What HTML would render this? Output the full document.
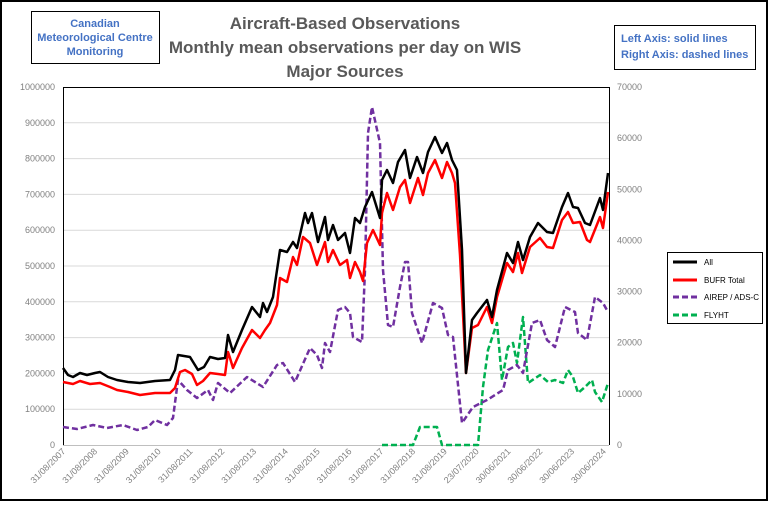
<!DOCTYPE html>
<html><head><meta charset="utf-8"><style>
body{margin:0;background:#fff}
svg text{font-family:"Liberation Sans",sans-serif}
</style></head><body>
<svg id="s" width="768" height="501" viewBox="0 0 768 501" xmlns="http://www.w3.org/2000/svg">
<rect x="1" y="1" width="766" height="499" fill="#fff" stroke="#000" stroke-width="2"/>
<g fill="#595959" font-weight="bold" font-size="17" text-anchor="middle">
<text x="345" y="29">Aircraft-Based Observations</text>
<text x="345" y="53">Monthly mean observations per day on WIS</text>
<text x="345" y="77">Major Sources</text>
</g>
<rect x="31.5" y="11.5" width="128" height="52" fill="#fff" stroke="#000"/>
<g fill="#4472C4" font-weight="bold" font-size="11" text-anchor="middle">
<text x="95" y="27">Canadian</text><text x="95" y="41">Meteorological Centre</text><text x="95" y="55">Monitoring</text>
</g>
<rect x="614.5" y="25.5" width="141" height="44" fill="#fff" stroke="#000"/>
<g fill="#4472C4" font-weight="bold" font-size="11">
<text x="621" y="42">Left Axis: solid lines</text><text x="621" y="58">Right Axis: dashed lines</text>
</g>
<g id="grid" stroke="#d9d9d9" stroke-width="1"></g>
<g id="lab" fill="#808080" font-size="9"></g>
<line x1="63.5" y1="87" x2="63.5" y2="445" stroke="#000"/>
<line x1="609.5" y1="87" x2="609.5" y2="445" stroke="#000"/>
<line x1="63" y1="87.5" x2="609" y2="87.5" stroke="#000"/>
<line x1="63" y1="445.5" x2="609" y2="445.5" stroke="#bfbfbf"/>
<g fill="none" stroke-linejoin="round" stroke-width="2.5">
<polyline stroke="#00B050" stroke-dasharray="6,3" points="382,445 413,445 420,427 437,427 442,445 478,445 483,387 488,350 497,323 502,380 508,347 513,343 517,363 523,317 528,383 540,375 548,382 555,380 563,383 568,370 573,377 578,393 585,387 592,380 595,392 602,402 608,383"/>
<polyline stroke="#7030A0" stroke-dasharray="6,3" points="63,427 77,429 93,425 107,428 123,425 137,430 148,427 155,420 167,425 173,418 178,380 187,390 197,398 208,390 213,400 218,383 230,393 247,377 263,387 277,365 283,363 295,382 310,348 317,355 322,368 325,343 330,352 338,310 345,307 350,313 353,337 362,342 365,270 368,133 372,107 380,143 383,270 388,325 393,327 400,287 405,262 408,262 412,313 422,343 433,303 442,308 448,335 453,337 462,423 473,407 487,400 503,390 508,370 517,365 523,373 532,323 540,320 547,340 555,347 565,307 575,312 578,333 587,340 595,297 603,303 608,312"/>
<polyline stroke="#f00" points="63,382 73,384 80,381 90,384 100,383 110,387 117,390 128,392 140,395 155,393 170,393 175,388 180,372 185,370 192,374 197,385 203,381 210,373 218,374 225,375 228,352 230,358 233,368 242,348 252,330 256,334 260,338 265,330 270,323 277,305 280,278 287,282 293,257 297,265 303,237 310,243 317,265 325,242 328,262 333,250 340,265 347,260 350,278 355,262 360,272 363,281 367,243 373,230 380,245 382,213 387,193 393,210 400,187 405,180 410,203 418,178 423,195 428,173 435,160 442,178 447,162 452,173 455,183 460,255 466,373 472,328 478,325 487,307 492,323 497,297 507,263 513,272 518,253 522,273 530,247 540,238 547,247 553,248 562,220 568,212 573,223 580,222 587,240 590,242 600,217 603,228 608,192"/>
<polyline stroke="#000" points="63,368 68,375 73,377 80,373 87,375 95,373 100,372 108,377 117,380 128,382 140,383 155,381 170,380 175,370 178,355 190,357 198,370 204,367 210,357 218,359 225,358 228,335 233,352 242,330 252,307 256,312 260,317 263,303 267,312 273,297 280,250 287,252 293,242 297,248 305,213 308,223 312,213 318,242 325,217 328,240 333,225 338,240 345,233 350,253 355,218 360,223 365,207 372,192 380,218 382,180 387,170 393,183 398,162 405,150 410,178 417,157 423,173 428,152 435,137 442,153 447,143 452,160 457,170 462,250 466,373 472,320 477,313 487,300 492,317 497,290 507,253 513,263 518,242 523,260 530,237 538,223 547,232 553,233 562,207 568,193 573,207 578,208 585,223 590,225 600,198 603,210 608,173"/>
</g>
<rect x="667.5" y="252.5" width="95" height="71" fill="#fff" stroke="#000"/>
<g font-size="8" fill="#000">
<line x1="673" y1="262" x2="697" y2="262" stroke="#000" stroke-width="3"/><text x="704" y="265">All</text>
<line x1="673" y1="280" x2="697" y2="280" stroke="#f00" stroke-width="3"/><text x="704" y="283">BUFR Total</text>
<line x1="673" y1="297" x2="697" y2="297" stroke="#7030A0" stroke-width="3" stroke-dasharray="6,3"/><text x="704" y="300">AIREP / ADS-C</text>
<line x1="673" y1="315" x2="697" y2="315" stroke="#00B050" stroke-width="3" stroke-dasharray="6,3"/><text x="704" y="318">FLYHT</text>
</g>
</svg>
<script>
var NS="http://www.w3.org/2000/svg";
function el(p,t,a,txt){var e=document.createElementNS(NS,t);for(var k in a)e.setAttribute(k,a[k]);if(txt!=null)e.textContent=txt;p.appendChild(e);return e;}
var g=document.getElementById('grid'),lab=document.getElementById('lab');
for(var i=0;i<=10;i++){var y=445-i*35.8;if(i>0&&i<10)el(g,'line',{x1:63,x2:609,y1:y,y2:y});
el(lab,'text',{x:55,y:y+3,'text-anchor':'end'},String(i*100000));}
for(var i=0;i<=7;i++){var y=445-i*51.14;el(lab,'text',{x:617,y:y+3},String(i*10000));}
var xl=['31/08/2007','31/08/2008','31/08/2009','31/08/2010','31/08/2011','31/08/2012','31/08/2013','31/08/2014','31/08/2015','31/08/2016','31/08/2017','31/08/2018','31/08/2019','23/07/2020','30/06/2021','30/06/2022','30/06/2023','30/06/2024'];
for(var i=0;i<xl.length;i++){var x=66+i*31.8;el(lab,'text',{x:x,y:452,'text-anchor':'end',transform:'rotate(-45 '+x+' 452)'},xl[i]);}
</script>
</body></html>
